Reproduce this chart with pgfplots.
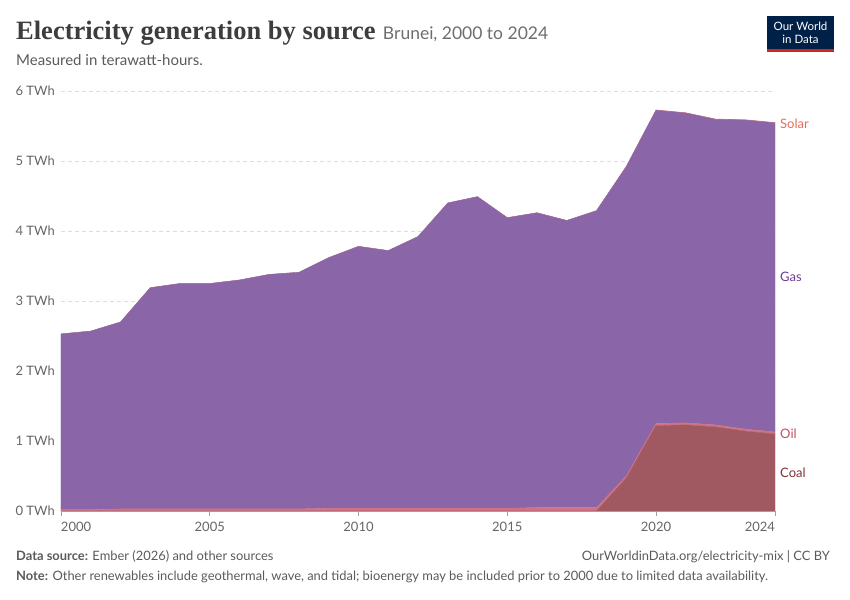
\documentclass[border=0pt]{standalone}
\usepackage{fontspec}
\setmainfont{Lato}
\newfontfamily\titlefont{Liberation Serif}
\usepackage{pgfplots}
\pgfplotsset{compat=1.18}
\usepackage{pgfplotstable}
\definecolor{gasc}{HTML}{6D3E91}
\definecolor{coalc}{HTML}{883039}
\definecolor{oilc}{HTML}{C15065}
\definecolor{solarc}{HTML}{E56E5A}
\definecolor{gasf}{RGB}{138,101,167}
\definecolor{coalf}{RGB}{160,89,97}
\definecolor{oilf}{RGB}{205,115,132}
\definecolor{solarf}{RGB}{234,139,123}
\definecolor{titlec}{HTML}{3D3D3D}
\definecolor{subc}{HTML}{6E6E6E}
\definecolor{textc}{HTML}{5B5B5B}
\definecolor{tickc}{HTML}{666666}
\definecolor{gridc}{HTML}{DDDDDD}
\definecolor{axisc}{HTML}{A0A0A0}
\definecolor{owidblue}{HTML}{002147}
\definecolor{owidred}{HTML}{CE261E}

\pgfplotstableread{
year coal oil gas solar
2000 0 0.02 2.51 0.000
2001 0 0.02 2.55 0.000
2002 0 0.03 2.67 0.000
2003 0 0.03 3.16 0.000
2004 0 0.03 3.22 0.000
2005 0 0.03 3.22 0.000
2006 0 0.03 3.27 0.000
2007 0 0.03 3.35 0.000
2008 0 0.03 3.38 0.000
2009 0 0.04 3.58 0.000
2010 0 0.04 3.74 0.001
2011 0 0.04 3.68 0.001
2012 0 0.04 3.88 0.001
2013 0 0.04 4.36 0.001
2014 0 0.04 4.45 0.001
2015 0 0.04 4.15 0.001
2016 0 0.05 4.21 0.001
2017 0 0.05 4.10 0.001
2018 0 0.05 4.24 0.001
2019 0.47 0.03 4.42 0.002
2020 1.22 0.03 4.476 0.004
2021 1.23 0.03 4.426 0.004
2022 1.20 0.03 4.366 0.004
2023 1.14 0.03 4.415 0.005
2024 1.10 0.03 4.415 0.005
}\datatable

\begin{document}
\begin{tikzpicture}
\path[use as bounding box] (0bp,0bp) rectangle (850bp,600bp);
\fill[white] (0bp,0bp) rectangle (850bp,600bp);

% title
\node[anchor=base west, inner sep=0pt, text=titlec, font=\titlefont\bfseries\fontsize{26.5bp}{30bp}\selectfont] (t) at (16bp,560bp) {Electricity generation by source};
\node[anchor=base west, inner sep=0pt, text=subc, font=\fontsize{17.5bp}{20bp}\selectfont] at ([xshift=7bp]t.base east) {Brunei, 2000 to 2024};
\node[anchor=base west, inner sep=0pt, text=textc, font=\fontsize{15bp}{18bp}\selectfont] at (16bp,534bp) {Measured in terawatt-hours.};

% logo
\fill[owidblue] (767bp,548bp) rectangle (834bp,584bp);
\fill[owidred] (767bp,548bp) rectangle (834bp,550.5bp);
\node[text=white, inner sep=0pt, align=center, font=\fontsize{11.5bp}{12.5bp}\selectfont] at (800.5bp,567bp) {Our World\\in Data};

\begin{axis}[
  at={(61bp,89bp)}, anchor=south west,
  scale only axis, width=714bp, height=420bp,
  xmin=2000, xmax=2024, ymin=0, ymax=6,
  stack plots=y,
  clip mode=individual,
  axis x line*=bottom, axis y line*=left,
  x axis line style={draw=axisc, line width=0.8bp, -},
  y axis line style={draw=none, -},
  ytick={0,1,2,3,4,5,6},
  yticklabels={0 TWh,1 TWh,2 TWh,3 TWh,4 TWh,5 TWh,6 TWh},
  ytick style={draw=none},
  yticklabel style={anchor=east, inner sep=0pt, xshift=-6bp, text=tickc, font=\fontsize{13bp}{15bp}\selectfont},
  xtick={2000,2005,2010,2015,2020,2024},
  xticklabels={\makebox[0pt][l]{2000},2005,2010,2015,2020,\makebox[0pt][r]{2024}},
  xtick align=outside,
  xtick style={draw=axisc, line width=0.8bp},
  major tick length=5bp,
  xticklabel style={anchor=north, inner sep=0pt, yshift=-6bp, text=tickc, font=\fontsize{13bp}{15bp}\selectfont},
  ymajorgrids,
  major grid style={draw=gridc, dash pattern=on 3.5bp off 3.5bp, line width=0.8bp},
]
\addplot[fill=coalf, draw=coalf, line width=0.3bp] table[x=year,y=coal]{\datatable} \closedcycle;
\addplot[fill=oilf, draw=oilf, line width=0.3bp] table[x=year,y=oil]{\datatable} \closedcycle;
\addplot[fill=gasf, draw=gasf, line width=0.3bp] table[x=year,y=gas]{\datatable} \closedcycle;
\addplot[fill=solarf, draw=solarf, line width=0.4bp] table[x=year,y=solar]{\datatable} \closedcycle;

\node[anchor=west, inner sep=0pt, text=solarc, font=\fontsize{13bp}{15bp}\selectfont] at ([xshift=5bp]axis cs:2024,5.53) {Solar};
\node[anchor=west, inner sep=0pt, text=gasc, font=\fontsize{13bp}{15bp}\selectfont] at ([xshift=5bp]axis cs:2024,3.34) {Gas};
\node[anchor=west, inner sep=0pt, text=oilc, font=\fontsize{13bp}{15bp}\selectfont] at ([xshift=5bp]axis cs:2024,1.11) {Oil};
\node[anchor=west, inner sep=0pt, text=coalc, font=\fontsize{13bp}{15bp}\selectfont] at ([xshift=5bp]axis cs:2024,0.54) {Coal};
\end{axis}

% footer
\node[anchor=base west, inner sep=0pt, text=textc, font=\fontsize{12.9bp}{15bp}\selectfont] at (16bp,39.5bp) {\textbf{Data source:} Ember (2026) and other sources};
\node[anchor=base east, inner sep=0pt, text=textc, font=\fontsize{12.9bp}{15bp}\selectfont] at (830bp,39.5bp) {OurWorldinData.org/electricity-mix | CC BY};
\node[anchor=base west, inner sep=0pt, text=textc, font=\fontsize{12.9bp}{15bp}\selectfont] at (16bp,19.5bp) {\textbf{Note:} Other renewables include geothermal, wave, and tidal; bioenergy may be included prior to 2000 due to limited data availability.};
\end{tikzpicture}
\end{document}
